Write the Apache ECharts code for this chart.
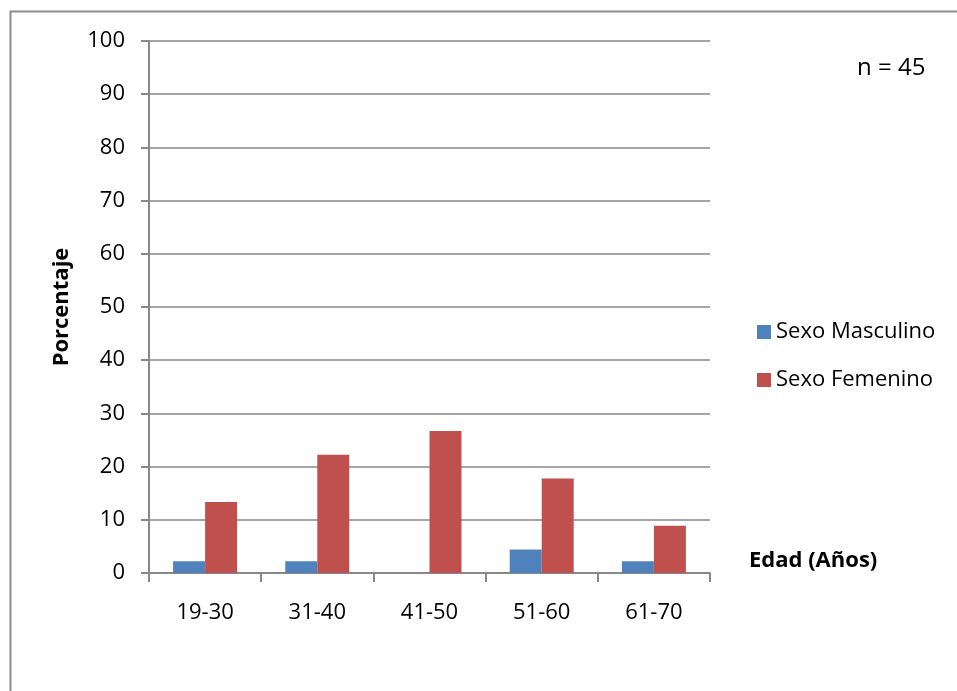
<!DOCTYPE html>
<html><head><meta charset="utf-8">
<script src="https://cdn.jsdelivr.net/npm/echarts@6/dist/echarts.min.js"></script>
<style>html,body{margin:0;padding:0;background:#fff}#c{width:957px;height:691px}</style>
</head><body><div id="c"></div>
<script>
const categories = ['19-30','31-40','41-50','51-60','61-70'];
const masculino = [2.22, 2.22, 0, 4.44, 2.22];
const femenino = [13.33, 22.22, 26.67, 17.78, 8.89];
const yTicks = {min: 0, max: 100, interval: 10};

const font = '"Open Sans", "Liberation Sans", sans-serif';
const chart = echarts.init(document.getElementById('c'));
chart.setOption({
  animation: false,
  textStyle: {fontFamily: font},
  graphic: [
    {type: 'rect', shape: {x: 10.5, y: 11.5, width: 1000, height: 1000}, style: {fill: 'none', stroke: '#8c8c8c', lineWidth: 2}, z: -1},
    {type: 'text', left: 857, top: 56, style: {text: 'n = 45', font: '24px ' + font, fill: '#000'}},
    {type: 'text', left: 749, top: 550, style: {text: 'Edad (Años)', font: 'bold 22px ' + font, fill: '#000'}}
  ],
  grid: {left: 149, top: 41, right: 247, bottom: 118},
  legend: {
    orient: 'vertical', left: 752, top: 316, itemGap: 26,
    itemWidth: 14, itemHeight: 14, icon: 'rect',
    textStyle: {fontSize: 22, color: '#000', fontFamily: font}
  },
  xAxis: {
    type: 'category', data: categories,
    axisLine: {lineStyle: {color: '#888', width: 2}},
    axisTick: {show: true, length: 9, lineStyle: {color: '#888', width: 2}},
    axisLabel: {fontSize: 22, color: '#000', margin: 29}
  },
  yAxis: {
    type: 'value', min: yTicks.min, max: yTicks.max, interval: yTicks.interval,
    name: 'Porcentaje', nameLocation: 'middle', nameGap: 76,
    nameTextStyle: {fontSize: 22, fontWeight: 'bold', color: '#000'},
    axisLine: {show: true, lineStyle: {color: '#888', width: 2}},
    axisTick: {show: true, length: 8, lineStyle: {color: '#888', width: 2}},
    axisLabel: {fontSize: 22, color: '#000', margin: 24},
    splitLine: {lineStyle: {color: '#888', width: 1.5}}
  },
  series: [
    {name: 'Sexo Masculino', type: 'bar', data: masculino, barWidth: 32, barGap: '0%', itemStyle: {color: '#4F81BD'}},
    {name: 'Sexo Femenino', type: 'bar', data: femenino, barWidth: 32, barGap: '0%', itemStyle: {color: '#C0504D'}}
  ]
});
</script></body></html>
